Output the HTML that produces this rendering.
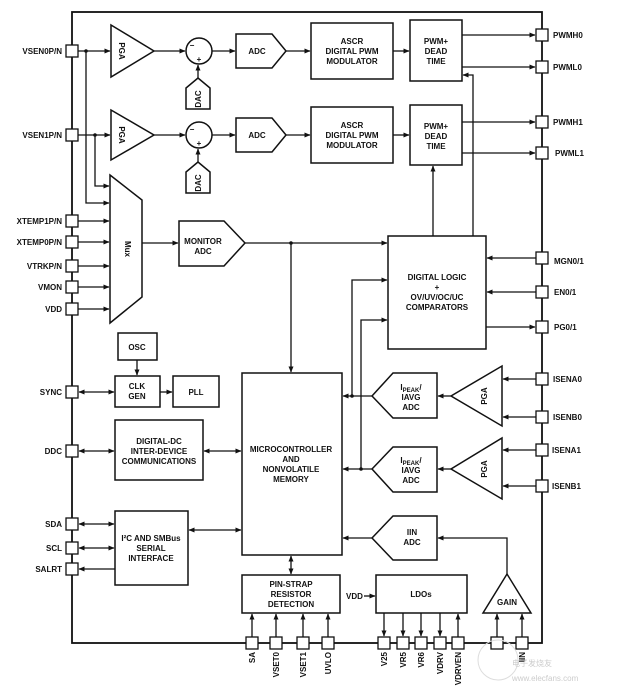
<!DOCTYPE html>
<html><head><meta charset="utf-8"><style>
html,body{margin:0;padding:0;background:#fff;width:617px;height:696px;overflow:hidden}
svg{display:block}
text{font-family:"Liberation Sans",Arial,sans-serif;font-weight:bold;font-size:8px;fill:#111}
</style></head><body>
<svg width="617" height="696" viewBox="0 0 617 696" xmlns="http://www.w3.org/2000/svg">
<defs>
<marker id="a" markerWidth="6" markerHeight="6" refX="5.5" refY="3" orient="auto" markerUnits="userSpaceOnUse"><path d="M0,0.5 L6,3 L0,5.5z" fill="#111"/></marker>
<marker id="s" markerWidth="6" markerHeight="6" refX="0.5" refY="3" orient="auto" markerUnits="userSpaceOnUse"><path d="M6,0.5 L0,3 L6,5.5z" fill="#111"/></marker>
</defs>
<g stroke="#111" stroke-width="1.8" fill="none">
<rect x="72" y="12" width="470" height="631"/>
</g>
<g stroke="#111" stroke-width="1.5" fill="#fff">
<path d="M111,25 L154,51 L111,77z"/>
<path d="M111,110 L154,135 L111,160z"/>
<circle cx="199" cy="51" r="13"/>
<circle cx="199" cy="135" r="13"/>
<path d="M186,109 L186,88 L198,78 L210,88 L210,109z"/>
<path d="M186,193 L186,172 L198,162 L210,172 L210,193z"/>
<path d="M236,34 L272,34 L286,51 L272,68 L236,68z"/>
<path d="M236,118 L272,118 L286,135 L272,152 L236,152z"/>
<rect x="311" y="23" width="82" height="56"/>
<rect x="311" y="107" width="82" height="56"/>
<rect x="410" y="20" width="52" height="61"/>
<rect x="410" y="105" width="52" height="60"/>
<path d="M110,175 L142,200 L142,297 L110,323z"/>
<path d="M179,221 L224,221 L245,243 L224,266 L179,266z"/>
<rect x="388" y="236" width="98" height="113"/>
<rect x="118" y="333" width="39" height="27"/>
<rect x="115" y="376" width="45" height="31"/>
<rect x="173" y="376" width="46" height="31"/>
<rect x="115" y="420" width="88" height="60"/>
<rect x="115" y="511" width="73" height="74"/>
<rect x="242" y="373" width="100" height="182"/>
<rect x="242" y="575" width="98" height="38"/>
<rect x="376" y="575" width="91" height="38"/>
<path d="M507,574 L531,613 L483,613z"/>
<path d="M393,373 L437,373 L437,418 L393,418 L372,396z"/>
<path d="M393,447 L437,447 L437,492 L393,492 L372,469z"/>
<path d="M393,516 L437,516 L437,560 L393,560 L372,538z"/>
<path d="M502,366 L502,426 L451,396z"/>
<path d="M502,438 L502,499 L451,469z"/>
</g>
<g stroke="#111" stroke-width="1.3" fill="none">
<line x1="78" y1="51" x2="110" y2="51" marker-end="url(#a)"/>
<line x1="78" y1="135" x2="110" y2="135" marker-end="url(#a)"/>
<polyline points="86,51 86,203 109,203" marker-end="url(#a)"/>
<polyline points="95,135 95,186 109,186" marker-end="url(#a)"/>
<line x1="78" y1="221" x2="109" y2="221" marker-end="url(#a)"/>
<line x1="78" y1="242" x2="109" y2="242" marker-end="url(#a)"/>
<line x1="78" y1="266" x2="109" y2="266" marker-end="url(#a)"/>
<line x1="78" y1="287" x2="109" y2="287" marker-end="url(#a)"/>
<line x1="78" y1="309" x2="109" y2="309" marker-end="url(#a)"/>
<line x1="154" y1="51" x2="185" y2="51" marker-end="url(#a)"/>
<line x1="154" y1="135" x2="185" y2="135" marker-end="url(#a)"/>
<line x1="198" y1="78" x2="198" y2="65" marker-end="url(#a)"/>
<line x1="198" y1="162" x2="198" y2="149" marker-end="url(#a)"/>
<line x1="212" y1="51" x2="235" y2="51" marker-end="url(#a)"/>
<line x1="212" y1="135" x2="235" y2="135" marker-end="url(#a)"/>
<line x1="286" y1="51" x2="310" y2="51" marker-end="url(#a)"/>
<line x1="286" y1="135" x2="310" y2="135" marker-end="url(#a)"/>
<line x1="393" y1="51" x2="409" y2="51" marker-end="url(#a)"/>
<line x1="393" y1="135" x2="409" y2="135" marker-end="url(#a)"/>
<line x1="462" y1="35" x2="535" y2="35" marker-end="url(#a)"/>
<line x1="462" y1="67" x2="535" y2="67" marker-end="url(#a)"/>
<line x1="462" y1="122" x2="535" y2="122" marker-end="url(#a)"/>
<line x1="462" y1="153" x2="535" y2="153" marker-end="url(#a)"/>
<polyline points="473,236 473,75 463,75" marker-end="url(#a)"/>
<line x1="433" y1="236" x2="433" y2="166" marker-end="url(#a)"/>
<line x1="142" y1="243" x2="178" y2="243" marker-end="url(#a)"/>
<line x1="245" y1="243" x2="387" y2="243" marker-end="url(#a)"/>
<line x1="291" y1="243" x2="291" y2="372" marker-end="url(#a)"/>
<polyline points="352,396 352,280 387,280" marker-end="url(#a)"/>
<polyline points="361,469 361,320 387,320" marker-end="url(#a)"/>
<line x1="536" y1="258" x2="487" y2="258" marker-end="url(#a)"/>
<line x1="536" y1="292" x2="487" y2="292" marker-end="url(#a)"/>
<line x1="486" y1="327" x2="535" y2="327" marker-end="url(#a)"/>
<line x1="137" y1="360" x2="137" y2="375" marker-end="url(#a)"/>
<line x1="79" y1="392" x2="114" y2="392" marker-start="url(#s)" marker-end="url(#a)"/>
<line x1="160" y1="392" x2="172" y2="392" marker-end="url(#a)"/>
<line x1="79" y1="451" x2="114" y2="451" marker-start="url(#s)" marker-end="url(#a)"/>
<line x1="204" y1="451" x2="241" y2="451" marker-start="url(#s)" marker-end="url(#a)"/>
<line x1="79" y1="524" x2="114" y2="524" marker-start="url(#s)" marker-end="url(#a)"/>
<line x1="79" y1="548" x2="114" y2="548" marker-start="url(#s)" marker-end="url(#a)"/>
<line x1="115" y1="569" x2="79" y2="569" marker-end="url(#a)"/>
<line x1="189" y1="530" x2="241" y2="530" marker-start="url(#s)" marker-end="url(#a)"/>
<line x1="291" y1="556" x2="291" y2="574" marker-start="url(#s)" marker-end="url(#a)"/>
<line x1="372" y1="396" x2="343" y2="396" marker-end="url(#a)"/>
<line x1="372" y1="469" x2="343" y2="469" marker-end="url(#a)"/>
<line x1="372" y1="538" x2="343" y2="538" marker-end="url(#a)"/>
<line x1="451" y1="396" x2="438" y2="396" marker-end="url(#a)"/>
<line x1="451" y1="469" x2="438" y2="469" marker-end="url(#a)"/>
<polyline points="507,574 507,538 438,538" marker-end="url(#a)"/>
<line x1="536" y1="379" x2="503" y2="379" marker-end="url(#a)"/>
<line x1="536" y1="417" x2="503" y2="417" marker-end="url(#a)"/>
<line x1="536" y1="450" x2="503" y2="450" marker-end="url(#a)"/>
<line x1="536" y1="486" x2="503" y2="486" marker-end="url(#a)"/>
<line x1="252" y1="637" x2="252" y2="614" marker-end="url(#a)"/>
<line x1="276" y1="637" x2="276" y2="614" marker-end="url(#a)"/>
<line x1="303" y1="637" x2="303" y2="614" marker-end="url(#a)"/>
<line x1="328" y1="637" x2="328" y2="614" marker-end="url(#a)"/>
<line x1="384" y1="613" x2="384" y2="636" marker-end="url(#a)"/>
<line x1="403" y1="613" x2="403" y2="636" marker-end="url(#a)"/>
<line x1="421" y1="613" x2="421" y2="636" marker-end="url(#a)"/>
<line x1="440" y1="613" x2="440" y2="636" marker-end="url(#a)"/>
<line x1="458" y1="637" x2="458" y2="614" marker-end="url(#a)"/>
<line x1="497" y1="637" x2="497" y2="614" marker-end="url(#a)"/>
<line x1="522" y1="637" x2="522" y2="614" marker-end="url(#a)"/>
<line x1="364" y1="596" x2="375" y2="596" marker-end="url(#a)"/>
</g>
<g fill="#111">
<circle cx="86" cy="51" r="1.8"/><circle cx="95" cy="135" r="1.8"/>
<circle cx="291" cy="243" r="1.8"/><circle cx="352" cy="396" r="1.8"/><circle cx="361" cy="469" r="1.8"/>
</g>
<g stroke="#111" stroke-width="1.3" fill="#fff">
<rect x="66" y="45" width="12" height="12"/><rect x="66" y="129" width="12" height="12"/>
<rect x="66" y="215" width="12" height="12"/><rect x="66" y="236" width="12" height="12"/>
<rect x="66" y="260" width="12" height="12"/><rect x="66" y="281" width="12" height="12"/>
<rect x="66" y="303" width="12" height="12"/><rect x="66" y="386" width="12" height="12"/>
<rect x="66" y="445" width="12" height="12"/><rect x="66" y="518" width="12" height="12"/>
<rect x="66" y="542" width="12" height="12"/><rect x="66" y="563" width="12" height="12"/>
<rect x="536" y="29" width="12" height="12"/><rect x="536" y="61" width="12" height="12"/>
<rect x="536" y="116" width="12" height="12"/><rect x="536" y="147" width="12" height="12"/>
<rect x="536" y="252" width="12" height="12"/><rect x="536" y="286" width="12" height="12"/>
<rect x="536" y="321" width="12" height="12"/><rect x="536" y="373" width="12" height="12"/>
<rect x="536" y="411" width="12" height="12"/><rect x="536" y="444" width="12" height="12"/>
<rect x="536" y="480" width="12" height="12"/>
<rect x="246" y="637" width="12" height="12"/><rect x="270" y="637" width="12" height="12"/>
<rect x="297" y="637" width="12" height="12"/><rect x="322" y="637" width="12" height="12"/>
<rect x="378" y="637" width="12" height="12"/><rect x="397" y="637" width="12" height="12"/>
<rect x="415" y="637" width="12" height="12"/><rect x="434" y="637" width="12" height="12"/>
<rect x="452" y="637" width="12" height="12"/><rect x="491" y="637" width="12" height="12"/>
<rect x="516" y="637" width="12" height="12"/>
</g>
<g text-anchor="end">
<text x="62" y="54">VSEN0P/N</text><text x="62" y="138">VSEN1P/N</text>
<text x="62" y="224">XTEMP1P/N</text><text x="62" y="245">XTEMP0P/N</text>
<text x="62" y="269">VTRKP/N</text><text x="62" y="290">VMON</text>
<text x="62" y="312">VDD</text><text x="62" y="395">SYNC</text>
<text x="62" y="454">DDC</text><text x="62" y="527">SDA</text>
<text x="62" y="551">SCL</text><text x="62" y="572">SALRT</text>
</g>
<g>
<text x="553" y="38">PWMH0</text><text x="553" y="70">PWML0</text>
<text x="553" y="125">PWMH1</text><text x="555" y="156">PWML1</text>
<text x="554" y="264">MGN0/1</text><text x="554" y="295">EN0/1</text>
<text x="554" y="330">PG0/1</text><text x="553" y="382">ISENA0</text>
<text x="553" y="420">ISENB0</text><text x="552" y="453">ISENA1</text>
<text x="552" y="489">ISENB1</text>
<text x="346" y="599">VDD</text>
</g>
<g text-anchor="end">
<text transform="translate(255,652) rotate(-90)">SA</text>
<text transform="translate(279,652) rotate(-90)">VSET0</text>
<text transform="translate(306,652) rotate(-90)">VSET1</text>
<text transform="translate(331,652) rotate(-90)">UVLO</text>
<text transform="translate(387,652) rotate(-90)">V25</text>
<text transform="translate(406,652) rotate(-90)">VR5</text>
<text transform="translate(424,652) rotate(-90)">VR6</text>
<text transform="translate(443,652) rotate(-90)">VDRV</text>
<text transform="translate(461,652) rotate(-90)">VDRVEN</text>
<text transform="translate(525,652) rotate(-90)">IIN</text>
</g>
<g text-anchor="middle">
<text transform="translate(122,51) rotate(90)" y="3">PGA</text>
<text transform="translate(122,135) rotate(90)" y="3">PGA</text>
<text transform="translate(198,99) rotate(-90)" y="3">DAC</text>
<text transform="translate(198,183) rotate(-90)" y="3">DAC</text>
<text x="192" y="48" font-size="9">−</text><text x="199" y="62" font-size="9">+</text>
<text x="192" y="132" font-size="9">−</text><text x="199" y="146" font-size="9">+</text>
<text x="257" y="54">ADC</text><text x="257" y="138">ADC</text>
<text x="352" y="44">ASCR</text><text x="352" y="54">DIGITAL PWM</text><text x="352" y="64">MODULATOR</text>
<text x="352" y="128">ASCR</text><text x="352" y="138">DIGITAL PWM</text><text x="352" y="148">MODULATOR</text>
<text x="436" y="44">PWM+</text><text x="436" y="54">DEAD</text><text x="436" y="64">TIME</text>
<text x="436" y="129">PWM+</text><text x="436" y="139">DEAD</text><text x="436" y="149">TIME</text>
<text transform="translate(128,249) rotate(90)" y="3">Mux</text>
<text x="203" y="244">MONITOR</text><text x="203" y="254">ADC</text>
<text x="437" y="280">DIGITAL LOGIC</text><text x="437" y="290">+</text>
<text x="437" y="300">OV/UV/OC/UC</text><text x="437" y="310">COMPARATORS</text>
<text x="137" y="350">OSC</text>
<text x="137" y="389">CLK</text><text x="137" y="399">GEN</text>
<text x="196" y="395">PLL</text>
<text x="159" y="444">DIGITAL-DC</text><text x="159" y="454">INTER-DEVICE</text><text x="159" y="464">COMMUNICATIONS</text>
<text x="151" y="541">I²C AND SMBus</text><text x="151" y="551">SERIAL</text><text x="151" y="561">INTERFACE</text>
<text x="291" y="452">MICROCONTROLLER</text><text x="291" y="462">AND</text>
<text x="291" y="472">NONVOLATILE</text><text x="291" y="482">MEMORY</text>
<text x="291" y="587">PIN-STRAP</text><text x="291" y="597">RESISTOR</text><text x="291" y="607">DETECTION</text>
<text x="421" y="597">LDOs</text>
<text x="507" y="605">GAIN</text>
<text x="411" y="390">I<tspan font-size="6" dy="2">PEAK</tspan><tspan dy="-2">/</tspan></text><text x="411" y="400">IAVG</text><text x="411" y="410">ADC</text>
<text x="411" y="463">I<tspan font-size="6" dy="2">PEAK</tspan><tspan dy="-2">/</tspan></text><text x="411" y="473">IAVG</text><text x="411" y="483">ADC</text>
<text x="412" y="535">IIN</text><text x="412" y="545">ADC</text>
<text transform="translate(484,396) rotate(-90)" y="3">PGA</text>
<text transform="translate(484,469) rotate(-90)" y="3">PGA</text>
</g>
<g>
<circle cx="498" cy="660" r="20" fill="none" stroke="#ddd" stroke-width="1"/>
<text x="512" y="666" font-size="17" style="font-family:'Noto Sans CJK SC',sans-serif;fill:#ccc;font-weight:normal">电子发烧友</text>
<text x="512" y="681" font-size="9" style="fill:#ccc;font-weight:normal">www.elecfans.com</text>
</g>
</svg>
</body></html>
